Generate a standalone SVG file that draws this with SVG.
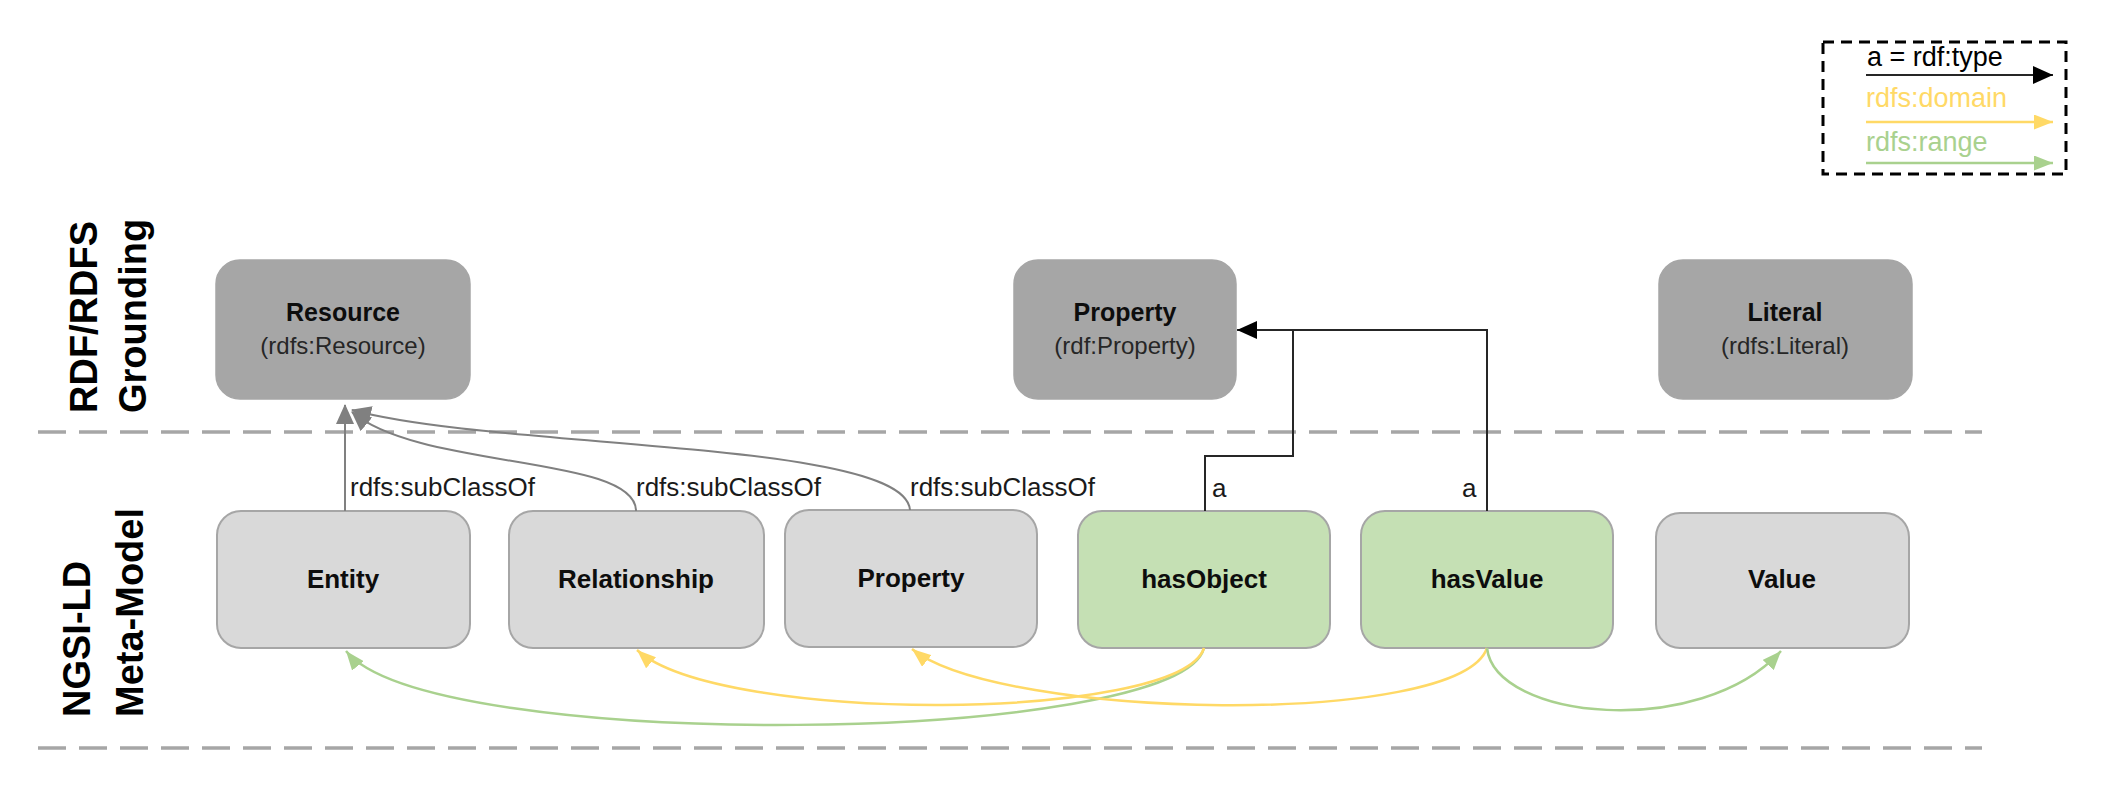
<svg xmlns="http://www.w3.org/2000/svg" width="2114" height="790" viewBox="0 0 2114 790">
<style>
.t{font-family:"Liberation Sans",Arial,sans-serif;}
.b{font-family:"Liberation Sans",Arial,sans-serif;font-weight:bold;fill:#0d0d0d;text-anchor:middle;}
.s{font-family:"Liberation Sans",Arial,sans-serif;fill:#262626;text-anchor:middle;font-size:24px;}
.lane{font-family:"Liberation Sans",Arial,sans-serif;font-weight:bold;font-size:38px;fill:#000;}
.top{fill:#A6A6A6;stroke:#A6A6A6;stroke-width:1.5;}
.grey{fill:#D9D9D9;stroke:#A6A6A6;stroke-width:2;}
.green{fill:#C5E0B4;stroke:#A6A6A6;stroke-width:2;}
.sep{fill:none;stroke:#A6A6A6;stroke-width:3.5;stroke-dasharray:28 13;}
.sub{fill:none;stroke:#808080;stroke-width:2;}
.type{fill:none;stroke:#262626;stroke-width:2;}
.dom{fill:none;stroke:#FFD966;stroke-width:2.5;}
.rng{fill:none;stroke:#A9D18E;stroke-width:2.5;}
.lbl{font-family:"Liberation Sans",Arial,sans-serif;font-size:26px;fill:#1a1a1a;}
</style>
<defs>
<marker id="mSub" markerUnits="userSpaceOnUse" markerWidth="20" markerHeight="18" refX="19" refY="9" orient="auto"><path d="M0,0 L20,9 L0,18 z" fill="#808080"/></marker>
<marker id="mType" markerUnits="userSpaceOnUse" markerWidth="20" markerHeight="18" refX="20" refY="9" orient="auto"><path d="M0,0 L20,9 L0,18 z" fill="#000"/></marker>
<marker id="mDom" markerUnits="userSpaceOnUse" markerWidth="19" markerHeight="15" refX="19" refY="7.5" orient="auto"><path d="M0,0 L19,7.5 L0,15 z" fill="#FFD966"/></marker>
<marker id="mRng" markerUnits="userSpaceOnUse" markerWidth="19" markerHeight="15" refX="19" refY="7.5" orient="auto"><path d="M0,0 L19,7.5 L0,15 z" fill="#A9D18E"/></marker>
</defs>
<rect width="2114" height="790" fill="#fff"/>

<g id="separators">
<line class="sep" x1="38" y1="432" x2="1982" y2="432"/>
<line class="sep" x1="38" y1="748" x2="1982" y2="748"/>
</g>

<g id="lane-labels">
<text class="lane" transform="translate(97,413) rotate(-90)">RDF/RDFS</text>
<text class="lane" transform="translate(146,413) rotate(-90)">Grounding</text>
<text class="lane" transform="translate(90,717) rotate(-90)">NGSI-LD</text>
<text class="lane" transform="translate(143,717) rotate(-90)">Meta-Model</text>
</g>

<g id="legend">
<rect x="1823" y="42" width="243" height="132" fill="none" stroke="#000" stroke-width="3" stroke-dasharray="11 7"/>
<text class="t" x="1867" y="66" font-size="27" fill="#000">a = rdf:type</text>
<line x1="1866" y1="75" x2="2053" y2="75" stroke="#262626" stroke-width="2" marker-end="url(#mType)"/>
<text class="t" x="1866" y="107" font-size="27" fill="#FFD966">rdfs:domain</text>
<line x1="1866" y1="122" x2="2053" y2="122" stroke="#FFD966" stroke-width="2.5" marker-end="url(#mDom)"/>
<text class="t" x="1866" y="151" font-size="27" fill="#A9D18E">rdfs:range</text>
<line x1="1866" y1="163" x2="2053" y2="163" stroke="#A9D18E" stroke-width="2.5" marker-end="url(#mRng)"/>
</g>

<g id="node-resource">
<rect class="top" x="216" y="260" width="254" height="139" rx="24"/>
<text class="b" x="343" y="321" font-size="25">Resource</text>
<text class="s" x="343" y="354">(rdfs:Resource)</text>
</g>
<g id="node-rdf-property">
<rect class="top" x="1014" y="260" width="222" height="139" rx="24"/>
<text class="b" x="1125" y="321" font-size="25">Property</text>
<text class="s" x="1125" y="354">(rdf:Property)</text>
</g>
<g id="node-literal">
<rect class="top" x="1659" y="260" width="253" height="139" rx="24"/>
<text class="b" x="1785" y="321" font-size="25">Literal</text>
<text class="s" x="1785" y="354">(rdfs:Literal)</text>
</g>

<g id="node-entity">
<rect class="grey" x="217" y="511" width="253" height="137" rx="24"/>
<text class="b" x="343" y="588" font-size="26">Entity</text>
</g>
<g id="node-relationship">
<rect class="grey" x="509" y="511" width="255" height="137" rx="24"/>
<text class="b" x="636" y="588" font-size="26">Relationship</text>
</g>
<g id="node-property">
<rect class="grey" x="785" y="510" width="252" height="137" rx="24"/>
<text class="b" x="911" y="587" font-size="26">Property</text>
</g>
<g id="node-hasobject">
<rect class="green" x="1078" y="511" width="252" height="137" rx="24"/>
<text class="b" x="1204" y="588" font-size="26">hasObject</text>
</g>
<g id="node-hasvalue">
<rect class="green" x="1361" y="511" width="252" height="137" rx="24"/>
<text class="b" x="1487" y="588" font-size="26">hasValue</text>
</g>
<g id="node-value">
<rect class="grey" x="1656" y="513" width="253" height="135" rx="24"/>
<text class="b" x="1782" y="588" font-size="26">Value</text>
</g>

<g id="connectors">
<path class="sub" d="M 345 511 L 345 405" marker-end="url(#mSub)"/>
<path class="sub" d="M 636 511 C 636 455, 420 470, 352 412" marker-end="url(#mSub)"/>
<path class="sub" d="M 910 510 C 905 440, 500 450, 352 410" marker-end="url(#mSub)"/>
<text class="lbl" x="350" y="496">rdfs:subClassOf</text>
<text class="lbl" x="636" y="496">rdfs:subClassOf</text>
<text class="lbl" x="910" y="496">rdfs:subClassOf</text>

<path class="type" d="M 1205 511 V 456 H 1293 V 330"/>
<path class="type" d="M 1487 511 V 330 H 1237" marker-end="url(#mType)"/>
<text class="lbl" x="1212" y="497">a</text>
<text class="lbl" x="1462" y="497">a</text>

<path class="rng" d="M 1204 648 C 1180 745, 430 755, 346 651" marker-end="url(#mRng)"/>
<path class="dom" d="M 1204 648 C 1180 722, 720 725, 637 650" marker-end="url(#mDom)"/>
<path class="dom" d="M 1487 648 C 1460 728, 1000 720, 912 649" marker-end="url(#mDom)"/>
<path class="rng" d="M 1487 648 C 1495 720, 1700 740, 1781 651" marker-end="url(#mRng)"/>
</g>
</svg>
